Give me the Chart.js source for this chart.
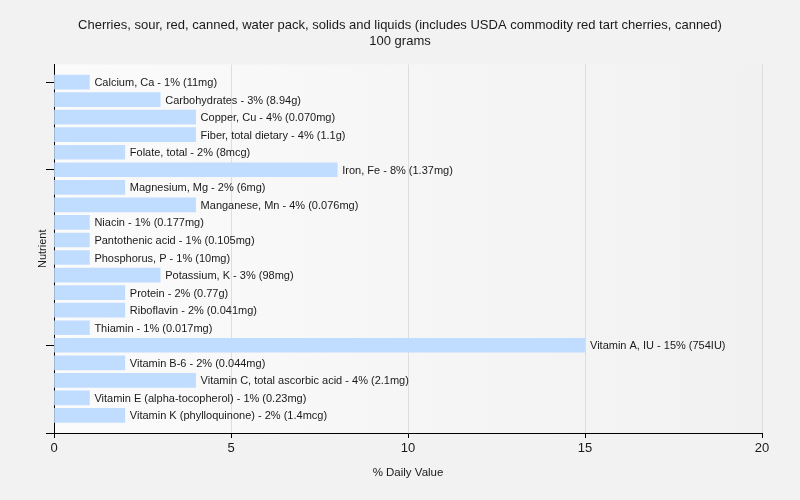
<!DOCTYPE html>
<html>
<head>
<meta charset="utf-8">
<script src="https://cdn.jsdelivr.net/npm/chart.js@4"></script>
<style>
  html, body { margin: 0; padding: 0; background: #f2f2f2; }
  #wrap { width: 800px; height: 500px; }
</style>
</head>
<body>
<div id="wrap"><canvas id="myChart" width="800" height="500"></canvas></div>
<script>
const ctx = document.getElementById('myChart').getContext('2d');

// nutrientes y % del valor diario
const nutrientes = [
  "Calcium, Ca", "Carbohydrates", "Copper, Cu", "Fiber, total dietary", "Folate, total",
  "Iron, Fe", "Magnesium, Mg", "Manganese, Mn", "Niacin", "Pantothenic acid",
  "Phosphorus, P", "Potassium, K", "Protein", "Riboflavin", "Thiamin",
  "Vitamin A, IU", "Vitamin B-6", "Vitamin C, total ascorbic acid",
  "Vitamin E (alpha-tocopherol)", "Vitamin K (phylloquinone)"
]
const porcentaje = [1, 3, 4, 4, 2, 8, 2, 4, 1, 1, 1, 3, 2, 2, 1, 15, 2, 4, 1, 2]
const cantidades = [
  "11mg", "8.94g", "0.070mg", "1.1g", "8mcg",
  "1.37mg", "6mg", "0.076mg", "0.177mg", "0.105mg",
  "10mg", "98mg", "0.77g", "0.041mg", "0.017mg",
  "754IU", "0.044mg", "2.1mg", "0.23mg", "1.4mcg"
]
const ticksX = [0, 5, 10, 15, 20]
const ticksY = [0, 5, 15, 20]   // marcas en el eje de nutrientes

const titulo = [
  "Cherries, sour, red, canned, water pack, solids and liquids (includes USDA commodity red tart cherries, canned)",
  "100 grams"
]

const fuente = "'Liberation Sans', Arial, sans-serif"

let puntos = porcentaje.map((v, i) => ({ x: v, y: i }))

// fondo del area del grafico
const fondo = {
  id: 'fondo',
  beforeDraw(chart) {
    const a = chart.chartArea
    const c = chart.ctx
    const g = c.createLinearGradient(a.left, 0, a.right, 0)
    g.addColorStop(0, '#fbfbfb')
    g.addColorStop(1, '#f1f1f1')
    c.save()
    c.fillStyle = g
    c.fillRect(a.left, a.top, a.right - a.left, a.bottom - a.top)
    c.restore()
  }
}

// etiqueta al final de cada barra
const etiquetas = {
  id: 'etiquetas',
  afterDatasetsDraw(chart) {
    const c = chart.ctx
    const meta = chart.getDatasetMeta(0)
    c.save()
    c.font = "11px " + fuente
    c.fillStyle = '#1a1a1a'
    c.textBaseline = 'middle'
    meta.data.forEach((bar, i) => {
      const txt = nutrientes[i] + " - " + porcentaje[i] + "% (" + cantidades[i] + ")"
      c.fillText(txt, bar.x + 5, bar.y + 1)
    })
    c.restore()
  }
}

const myChart = new Chart(ctx, {
  type: 'bar',
  data: {
    datasets: [{
      data: puntos,
      backgroundColor: '#c0dcff',
      borderWidth: 0,
      barThickness: 14
    }]
  },
  plugins: [fondo, etiquetas],
  options: {
    indexAxis: 'y',
    responsive: false,
    animation: false,
    layout: { padding: { left: 38, right: 38, top: 0, bottom: 0 } },
    plugins: {
      legend: { display: false },
      tooltip: { enabled: false },
      title: {
        display: true,
        text: titulo,
        color: '#1a1a1a',
        font: { family: fuente, size: 13, weight: 'normal', lineHeight: 1.25 },
        padding: { top: 17, bottom: 15 }
      }
    },
    scales: {
      x: {
        type: 'linear',
        min: 0,
        max: 20,
        afterBuildTicks: (s) => { s.ticks = ticksX.map(v => ({ value: v })) },
        afterFit: (s) => { s.height = 67 },
        border: { color: '#000', width: 1 },
        grid: { color: '#dedede', tickColor: '#000', tickLength: 5 },
        ticks: { color: '#1a1a1a', font: { family: fuente, size: 13 }, padding: 3 },
        title: {
          display: true,
          text: '% Daily Value',
          color: '#1a1a1a',
          font: { family: fuente, size: 11.5 },
          padding: { top: 8, bottom: 20 }
        }
      },
      y: {
        type: 'linear',
        reverse: true,
        offset: false,
        min: -1,
        max: 20,
        afterBuildTicks: (s) => { s.ticks = ticksY.map(v => ({ value: v })) },
        afterFit: (s) => { s.width = 16 },
        border: { color: '#000', width: 1 },
        grid: { offset: false, drawOnChartArea: false, tickColor: '#000', tickLength: 8 },
        ticks: { callback: () => '' },
        title: {
          display: true,
          text: 'Nutrient',
          color: '#1a1a1a',
          font: { family: fuente, size: 11 },
          padding: { top: -2, bottom: 0 }
        }
      }
    }
  }
})
</script>
</body>
</html>
